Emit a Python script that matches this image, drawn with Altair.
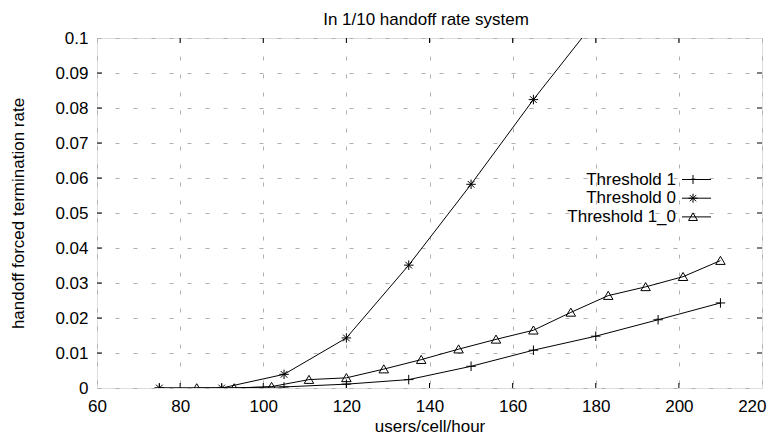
import altair as alt
import pandas as pd

# ---- data ----
t1_x = [75, 90, 105, 120, 135, 150, 165, 180, 195, 210]
t1_y = [0, 0, 0.0003, 0.0011, 0.0024, 0.0062, 0.0108, 0.0148, 0.0195, 0.0243]

t0_x = [75, 90, 105, 120, 135, 150, 165, 180]
t0_y = [0, 0, 0.0039, 0.0143, 0.0351, 0.0582, 0.0824, 0.105]

t10_x = [84, 93, 102, 111, 120, 129, 138, 147, 156, 165, 174, 183, 192, 201, 210]
t10_y = [0, 0, 0.0004, 0.0024, 0.0029, 0.0054, 0.0081, 0.0111, 0.0139, 0.0165,
         0.0216, 0.0264, 0.0289, 0.0318, 0.0364]

series_names = ["Threshold 1", "Threshold 0", "Threshold 1_0"]
x_ticks = [60, 80, 100, 120, 140, 160, 180, 200, 220]
y_ticks = [0, 0.01, 0.02, 0.03, 0.04, 0.05, 0.06, 0.07, 0.08, 0.09, 0.1]
chart_title = ["In 1/10 handoff rate system"]

# ---- styling ----
FONT = "Liberation Sans"
FS = 17
W, H = 665, 350
PLUS = "M-1,0L1,0M0,-1L0,1"
STAR = "M-1,0L1,0M0,-1L0,1M-0.7,-0.7L0.7,0.7M-0.7,0.7L0.7,-0.7"
TRI = "M0,-0.9L1,0.8L-1,0.8Z"
shapes = [PLUS, STAR, TRI]

rows = []
for name, xs_, ys_ in zip(series_names, [t1_x, t0_x, t10_x], [t1_y, t0_y, t10_y]):
    for a, b in zip(xs_, ys_):
        rows.append({"s": name, "x": a, "y": b})
df = pd.DataFrame(rows)

xs = alt.Scale(domain=[60, 220], nice=False, zero=False)
ys = alt.Scale(domain=[0, 0.1], nice=False, zero=False)

last_x = "datum.value == %d" % x_ticks[-1]
x_axis = alt.Axis(values=x_ticks, format="d", grid=True, gridDash=[4, 14],
                  gridColor="#b0b0b0", ticks=False, domain=False, labelOverlap=False,
                  labelFlush=False,
                  labelAlign={"condition": {"test": last_x, "value": "right"}, "value": "center"},
                  labelOffset={"condition": {"test": last_x, "value": 4}, "value": 0},
                  labelFont=FONT, labelFontSize=FS, labelColor="black",
                  labelPadding=10, title="users/cell/hour", titleFont=FONT,
                  titleFontSize=FS, titleFontWeight="normal", titleColor="black",
                  titleX=W / 2, titleY=43, titleBaseline="alphabetic", titleAlign="center")
y_axis = alt.Axis(values=y_ticks, format=".2~f", grid=True, gridDash=[4, 14],
                  gridColor="#b0b0b0", ticks=False, domain=False, labelOverlap=False,
                  labelFlush=False,
                  labelFont=FONT, labelFontSize=FS, labelColor="black",
                  labelPadding=9, title="handoff forced termination rate",
                  titleFont=FONT, titleFontSize=FS, titleFontWeight="normal",
                  titleColor="black", titleX=-79, titleY=H / 2, titleAngle=-90,
                  titleBaseline="middle", titleAlign="center")

X = lambda: alt.X("x:Q", scale=xs, axis=x_axis)
Y = lambda: alt.Y("y:Q", scale=ys, axis=y_axis)

lines = alt.Chart(df).mark_line(color="black", strokeWidth=1, clip=True).encode(
    x=X(), y=Y(), detail="s:N",
)
points = alt.Chart(df).mark_point(filled=False, color="black", strokeWidth=1,
                                   opacity=1, size=90, clip=True).encode(
    x=X(), y=Y(),
    shape=alt.Shape("s:N", scale=alt.Scale(domain=series_names, range=shapes), legend=None),
)

TL = 5
ydf = pd.DataFrame({"y": y_ticks[1:-1]})
xdf = pd.DataFrame({"x": x_ticks[1:-1]})
tick_layers = [
    alt.Chart(ydf).mark_rule(color="black").encode(y=Y(), x=alt.value(0), x2=alt.value(TL)),
    alt.Chart(ydf).mark_rule(color="black").encode(y=Y(), x=alt.value(W - TL), x2=alt.value(W)),
    alt.Chart(xdf).mark_rule(color="black").encode(x=X(), y=alt.value(H), y2=alt.value(H - TL)),
    alt.Chart(xdf).mark_rule(color="black").encode(x=X(), y=alt.value(0), y2=alt.value(TL)),
]

title_layer = alt.Chart(pd.DataFrame({"t": chart_title})).mark_text(
    align="center", baseline="alphabetic", font=FONT, fontSize=FS, color="black"
).encode(x=alt.value(329), y=alt.value(-13), text="t:N")

legend_layers = []
for i, (name, shp) in enumerate(zip(series_names, shapes)):
    ly = 141.5 + i * 18.7
    ldf = pd.DataFrame({"s": [name]})
    legend_layers.append(alt.Chart(ldf).mark_text(align="right", baseline="middle", font=FONT,
                                                  fontSize=FS, color="black").encode(
        x=alt.value(579), y=alt.value(ly), text="s:N"))
    legend_layers.append(alt.Chart(ldf).mark_rule(color="black", strokeWidth=1).encode(
        x=alt.value(585), x2=alt.value(614), y=alt.value(ly)))
    legend_layers.append(alt.Chart(ldf).mark_point(shape=shp, filled=False, color="black",
                                                   strokeWidth=1, opacity=1, size=80).encode(
        x=alt.value(596), y=alt.value(ly)))

chart = alt.layer(lines, points, *tick_layers, title_layer, *legend_layers).properties(
    width=W, height=H,
    autosize=alt.AutoSizeParams(type="none"),
    padding={"left": 89, "top": 30, "right": 5, "bottom": 46},
).configure_view(stroke="black", strokeWidth=1).configure(background="white")

chart.save("out.html", embed_options={"renderer": "svg", "actions": False})
